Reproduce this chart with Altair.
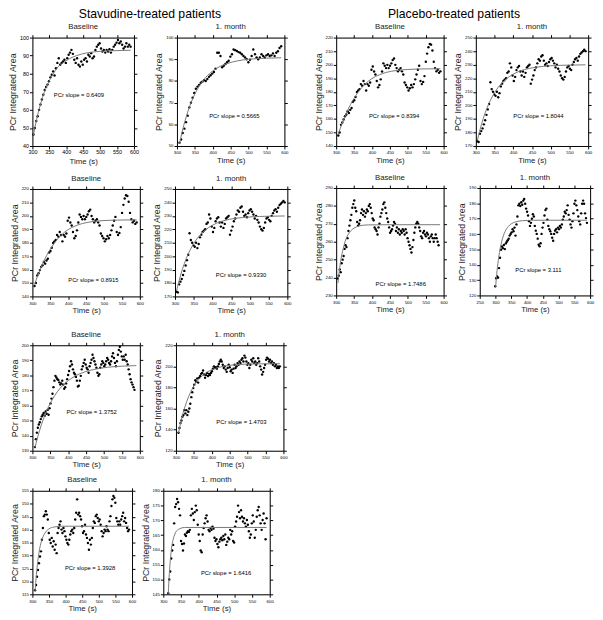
import altair as alt
import pandas as pd
import numpy as np

FONT = "Liberation Sans, Arial, sans-serif"

# ---------------- data ----------------
# Stavudine row 1, Baseline
P1_T = (303, 590)
P1 = [46.4, 50, 53.8, 56.5, 60, 63, 65.7, 68.4, 71, 72.7, 74, 75.8, 78, 79.4, 81.3, 79, 83, 86, 88.6, 85,
      86, 86.8, 87.7, 86, 88.6, 90.5, 91.7, 93.2, 91, 87.7, 86, 88.6, 85, 84, 86.8, 85, 87.7, 88.6, 86.8, 90.5,
      89.5, 91.4, 88.6, 89.5, 93.2, 95, 96, 96.9, 94, 92.3, 93.2, 91.7, 93.2, 92.3, 93.6, 91.7, 93.2, 95, 96, 97.2,
      98.7, 96.9, 97.8, 96, 94, 95, 96.9, 95, 96, 95]
C1_T = [303, 310, 320, 330, 340, 350, 360, 375, 390, 410, 430, 460, 500, 550, 590]
C1 = [46, 52.6, 60.5, 66.9, 72, 76.1, 79.4, 83.7, 85.9, 88.4, 90, 91.5, 92.4, 92.8, 93]

# Stavudine row 1, 1. month
P2_T = (307, 591)
P2 = [51.5, 53, 56, 58, 61, 64, 67.8, 70, 72.3, 74.5, 76.4, 77.4, 78.2, 79.2, 79.7, 80.4, 80, 80.9, 81.9, 82.6,
      83.4, 84.1, 85.6, 93, 93, 91.5, 86.3, 87, 87.8, 88.6, 89.3, 91.2, 92.3, 94.5, 94.2, 93.8, 93.3, 93, 92.3, 91.5,
      90.8, 90, 88.6, 89.8, 91.5, 94.5, 92.3, 90.8, 90, 90.8, 92.3, 91.5, 90.8, 91.8, 92.3, 91.5, 91.8, 92.7, 91.5, 93,
      93.7, 95.2, 96]
C2_T = [307, 315, 325, 335, 345, 355, 365, 380, 400, 420, 440, 470, 500, 550, 591]
C2 = [51, 56.9, 63, 68.1, 72.2, 75.6, 78.3, 81.6, 84.6, 86.7, 88, 89.3, 90, 90.5, 90.7]

# Placebo row 1 Baseline (same curve shown in Stavudine row 2 Baseline)
P3_T = (306, 591)
P3 = [147.8, 150, 155.6, 157.3, 159.6, 162, 163.2, 165.6, 164.4, 166.7, 168, 172.7, 173.8, 176.2, 179.8, 181, 182,
      185.7, 184.5, 188, 185.7, 181, 185.7, 184.5, 186.9, 196.3, 198.7, 195, 192.8, 188, 183.3, 185, 189.2, 195, 201,
      199.2, 197.5, 199.9, 197.5, 199.2, 201, 203.4, 204.6, 199.9, 197.5, 195.1, 196.3, 197.5, 195.1, 192.8, 186.9,
      185, 183.3, 181, 182.6, 185, 183.3, 185.7, 189.2, 192.8, 196.3, 199.2, 188, 185.7, 187.3, 191.6, 202.2, 208.2,
      212.9, 215.3, 214.8, 210.5, 202.2, 197.5, 195.1, 196.3, 194, 195.1]
C3_T = [306, 315, 325, 335, 345, 355, 365, 380, 400, 420, 440, 470, 500, 550, 591]
C3 = [149, 155.5, 162, 168, 173, 177.3, 181, 185.5, 189.8, 192.5, 194.3, 195.8, 196.5, 196.9, 197]

# Placebo row 1 1. month (same curve shown in Stavudine row 2 1. month)
P4_T = (304, 593)
P4 = [173.5, 173, 179, 181, 183, 186, 189, 193, 197, 201, 217, 212, 210, 208, 207, 210, 206, 209, 214, 216,
      218, 219, 220, 224, 225, 231, 228, 222, 218, 221, 226, 228, 229, 225, 222, 225, 221, 224, 228, 229,
      230, 216, 219, 222, 226, 228, 231, 234, 233, 236, 237, 233, 230, 231, 229, 232, 234, 235, 233, 231,
      228, 230, 227, 225, 222, 220, 219, 221, 225, 228, 229, 227, 226, 230, 232, 234, 235, 233, 236, 238,
      239, 240, 241, 240]
C4_T = [304, 310, 320, 330, 340, 350, 360, 375, 390, 410, 430, 460, 500, 550, 593]
C4 = [174, 180.8, 190.5, 198.2, 204.4, 209.4, 213.4, 218, 221.3, 224.4, 226.4, 228.1, 229.2, 229.7, 229.9]

# Placebo row 2 Baseline
P7_T = (304.5, 586)
P7 = [239.5, 241, 244.5, 243, 248, 250, 252, 256, 258, 257, 262, 266, 269, 272, 275, 279, 281, 283, 279, 277,
      271, 269, 270, 272, 276, 278, 275, 277, 274, 276, 278, 277, 280, 281, 279, 276, 273, 272, 268, 267,
      266, 264, 268, 270, 274, 276, 278, 281, 282, 279, 276, 273, 271, 268, 265, 266, 267, 269, 271, 270,
      266, 268, 265, 267, 264, 266, 265, 267, 266, 264, 267, 265, 262, 260, 258, 256, 254, 257, 261, 265,
      268, 270, 271, 270, 268, 266, 263, 262, 265, 266, 264, 263, 265, 264, 262, 260, 263, 264, 262, 260,
      262, 264, 262, 260, 258]
C7_T = [305, 310, 315, 320, 325, 330, 340, 350, 365, 390, 450, 590]
C7 = [237, 245.7, 252.1, 256.3, 260.2, 262.7, 265.9, 267.6, 268.9, 269.4, 269.5, 269.5]

# Placebo row 2 1. month
P8_T = (299, 590)
P8 = [126, 131.2, 132.3, 131.6, 137.8, 144.6, 149.8, 151.9, 150.8, 152.9, 150.2, 153.9, 155, 156, 157, 159, 160.1,
      161.1, 163.2, 161.8, 164.2, 159, 166.3, 171.4, 178.7, 179.7, 178.2, 180.7, 179.1, 181.8, 182.8, 179.7, 176.6,
      174.5, 172.1, 168.4, 165.3, 167.3, 170, 172.9, 171.4, 165.3, 162.2, 160.1, 157, 153, 152, 154, 160.1, 164.2,
      167.3, 172.1, 175.6, 176.6, 169.4, 165.3, 163.2, 161.8, 160.1, 157.6, 155.6, 160.1, 162.2, 163.2, 161.1, 164.2,
      163.2, 165.3, 164.2, 166.3, 169.4, 171.4, 174.5, 173.5, 175.6, 178.7, 172.5, 169.4, 166.3, 164.2, 168.4, 173.5,
      179.7, 181.8, 178.7, 175.6, 171.4, 168.4, 166.3, 173.5, 179.7, 181.8, 179.7, 173.5, 170.4, 167.3]
C8_T = [300, 305, 310, 315, 320, 330, 340, 350, 365, 385, 420, 590]
C8 = [125, 136.2, 144.6, 150.8, 155.4, 161.5, 164.8, 166.7, 168, 168.7, 169, 169]

# Stavudine row 3 Baseline
P9_T = (307, 585)
P9 = [132.4, 137.7, 142, 145.3, 147.4, 148.9, 151, 152.8, 153.9, 155, 153.2, 156, 154.5, 157.1, 153.9, 158.2, 161.4,
      164.6, 167.8, 172.2, 176.5, 179.7, 178.6, 177.5, 176.9, 175.4, 173.9, 174.7, 176.5, 173.9, 171.1, 172.2, 174.7,
      177.5, 180.3, 182.9, 186.1, 189.4, 187.2, 184, 181.8, 180.8, 179, 176.5, 172.6, 173.2, 176.5, 179.7, 184, 186.1,
      188.3, 190.4, 187.2, 185.1, 184, 181.8, 186.1, 188.3, 190.4, 193.7, 191.5, 189.4, 187.2, 185.1, 181.8, 179.7,
      180.8, 185.1, 187.2, 189.4, 188.3, 186.1, 187.2, 189.4, 191.5, 190.4, 188.3, 187.2, 189.4, 192.6, 194.7, 191.5,
      188.3, 186.1, 189.4, 193.7, 196.9, 199, 195.8, 192.6, 190.4, 192.6, 190.4, 193.7, 189.4, 187.2, 184, 180.8,
      177.5, 175.4, 173.9, 172.2, 170.4]
C9_T = [307, 315, 325, 335, 345, 355, 370, 385, 400, 420, 445, 475, 510, 550, 590]
C9 = [132, 139.3, 147.2, 153.7, 159.2, 163.7, 169.3, 173.4, 176.5, 179.7, 182.2, 184.1, 185.4, 186.1, 186.5]

# Stavudine row 3 1. month
P10_T = (307, 590)
P10 = [137, 141.5, 146.2, 148.6, 152.3, 153.8, 158.5, 155.4, 158.5, 153.8, 156.9, 160, 164.6, 170.8, 175.4, 179.4,
       182.5, 186.8, 185.5, 188.6, 184.6, 189.2, 190.8, 192.9, 193.8, 196, 192.3, 189.2, 191.7, 193.8, 190.8, 192.9,
       191.7, 193.8, 195.4, 197.8, 200, 198.5, 199.1, 197.8, 200, 202.2, 204.6, 206.2, 204.6, 201.5, 198.5, 200,
       196.9, 194.8, 198.5, 201.5, 199.1, 195.4, 196.9, 193.8, 197.8, 201.5, 198.5, 200, 203.1, 201.5, 204.6, 203.1,
       206.2, 207.7, 204.6, 210.2, 208.3, 204.6, 201.5, 203.1, 198.5, 201.5, 206.2, 204.6, 207.7, 203.1, 204.6,
       201.5, 203.1, 207.7, 204.6, 200, 196.9, 192.3, 194.8, 198.5, 201.5, 206.2, 208.3, 207.1, 204.6, 206.2, 203.1,
       204.6, 201.5, 203.1, 200, 201.5, 198.5, 200, 198.5, 200]
C10_T = [307, 315, 325, 335, 345, 355, 370, 385, 400, 420, 450, 490, 540, 590]
C10 = [137, 149.5, 161.7, 171.1, 178.4, 184, 190, 194.1, 196.8, 199.1, 201, 202, 202.4, 202.5]

# Stavudine row 4 Baseline
P11_T = (308, 591)
P11 = [116.6, 118.6, 121.8, 124.4, 127, 129.6, 131.6, 136.1, 140.6, 145.2, 145.8, 147.1, 145.8, 143.9, 138.7, 136.1,
       134.8, 136.8, 133.5, 135.5, 132.2, 134.2, 130.9, 138.7, 140.6, 141.9, 143.2, 140, 138.7, 140.6, 139.4, 137.4,
       136.1, 134.8, 134.2, 136.1, 138.1, 139.4, 140, 138.7, 140.6, 143.9, 146.5, 151.7, 145.8, 146.5, 145.2, 143.9,
       141.3, 138.7, 139.4, 141.9, 138.1, 136.8, 134.8, 132.2, 136.1, 134.2, 136.8, 140.6, 143.2, 142.6, 145.2, 145.8,
       144.5, 143.2, 143.9, 141.9, 139.4, 137.4, 138.7, 140, 139.4, 141.3, 140, 139.4, 143.2, 145.2, 149.1, 151.7,
       153, 152.3, 150.4, 144.5, 143.2, 141.9, 143.2, 141.9, 143.9, 145.2, 146.5, 143.2, 144.5, 142.6, 140.6, 139.4,
       140]
C11_T = [308, 312, 316, 320, 325, 330, 340, 350, 365, 390, 591]
C11 = [116, 122.7, 127.6, 131.3, 134.5, 136.6, 139.1, 140.3, 141, 141.3, 141.3]

# Stavudine row 4 1. month
P12_T = (314, 591)
P12 = [145.4, 150, 152.7, 157.1, 159.8, 161.7, 169, 174.5, 175.5, 177.2, 176.1, 173.9, 171.7, 163, 162, 159.8, 162.2,
       165.2, 164.7, 165.8, 166.3, 166.1, 166.8, 171.7, 173.9, 172.3, 170.1, 172.8, 175, 173.4, 168.5, 165.2, 163,
       159.8, 159.2, 165.2, 167.4, 169, 170.7, 171.7, 169.6, 166.8, 166.3, 167.4, 166.8, 167.9, 167.2, 164.1, 163,
       163.6, 162, 160.9, 162.8, 163.6, 164.1, 163.3, 164.7, 163.6, 165.2, 161.7, 162.8, 164.1, 163.6, 166.8, 165.2,
       166.3, 163, 162.5, 167.9, 169.6, 171.2, 175, 172.8, 170.7, 173.4, 171.2, 169.6, 170.7, 169, 167.9, 170.1, 168.5,
       166.3, 164.1, 165.2, 169, 171.7, 169.6, 164.1, 166.8, 171.2, 173.4, 174.5, 171.7, 169, 166.8, 170.1, 172.3, 169,
       163.6, 170.7]
C12_T = [314, 317, 320, 323, 326, 330, 335, 345, 360, 591]
C12 = [145, 152.1, 156.9, 160.3, 162.6, 164.5, 166, 167.1, 167.6, 167.6]

SLOPES = ["0.6409", "0.5665", "0.8394", "1.8044", "0.8915", "0.9330",
          "1.7486", "3.111", "1.3752", "1.4703", "1.3928", "1.6416"]
TITLES = ["Baseline", "1. month"]
GROUPS = ["Stavudine-treated patients", "Placebo-treated patients"]

X_TICKS = [300, 350, 400, 450, 500, 550, 600]
X_TICKS_250 = [250, 300, 350, 400, 450, 500, 550, 600]
Y1 = [40, 50, 60, 70, 80, 90, 100]
Y2 = [50, 60, 70, 80, 90, 100]
Y3 = [140, 150, 160, 170, 180, 190, 200, 210, 220]
Y4 = [170, 180, 190, 200, 210, 220, 230, 240, 250]
Y7 = [230, 240, 250, 260, 270, 280, 290]
Y8 = [120, 130, 140, 150, 160, 170, 180, 190]
Y9 = [130, 140, 150, 160, 170, 180, 190, 200]
Y10 = [120, 140, 160, 180, 200, 220]
Y11 = [115, 120, 125, 130, 135, 140, 145, 150, 155]
Y12 = [145, 150, 155, 160, 165, 170, 175, 180]


def panel(trange, vals, ct, cv, xticks, yticks, title, slope, tpos, w, h, lab=4.5):
    t = np.linspace(trange[0], trange[1], len(vals))
    pts = pd.DataFrame({"t": t, "v": vals})
    cur = pd.DataFrame({"t": ct, "v": cv})
    txt = pd.DataFrame({"t": [tpos[0]], "v": [tpos[1]], "s": ["PCr slope = " + slope]})
    xs = alt.Scale(domain=[xticks[0], xticks[-1]], nice=False, zero=False)
    ys = alt.Scale(domain=[yticks[0], yticks[-1]], nice=False, zero=False)
    base_ax = dict(tickSize=3, tickColor="black", domainColor="black", grid=False,
                   labelFlush=False, labelOverlap=False)
    lab_ax = dict(labelFontSize=lab, labelFont=FONT, labelColor="black", labelPadding=1,
                  titleFont=FONT, titleFontWeight="normal", titleColor="#222222")
    p = alt.Chart(pts).mark_circle(size=6, color="black", opacity=1).encode(
        x=alt.X("t:Q", scale=xs, axis=alt.Axis(values=xticks, title="Time (s)", titleFontSize=8,
                                               titlePadding=2, **base_ax, **lab_ax)),
        y=alt.Y("v:Q", scale=ys, axis=alt.Axis(values=yticks, title="PCr Integrated Area", titleFontSize=9,
                                               titlePadding=2, **base_ax, **lab_ax)),
    )
    l = alt.Chart(cur).mark_line(color="#777777", strokeWidth=1, interpolate="monotone").encode(
        x=alt.X("t:Q", scale=xs, axis=alt.Axis(values=xticks, orient="top", labels=False, title="",
                                               titlePadding=0, **base_ax)),
        y=alt.Y("v:Q", scale=ys, axis=alt.Axis(values=yticks, orient="right", labels=False, title="",
                                               titlePadding=0, **base_ax)),
    )
    tx = alt.Chart(txt).mark_text(align="left", baseline="middle", fontSize=6, font=FONT, color="black").encode(
        x=alt.X("t:Q", scale=xs, axis=None),
        y=alt.Y("v:Q", scale=ys, axis=None),
        text="s:N",
    )
    return alt.layer(p, l, tx).resolve_axis(x="independent", y="independent").properties(
        width=w, height=h,
        title=alt.TitleParams(title, fontSize=8, font=FONT, fontWeight="normal", offset=3, anchor="middle",
                              color="#222222"),
    )


p1 = panel(P1_T, P1, C1_T, C1, X_TICKS, Y1, TITLES[0], SLOPES[0], (363, 68.4), 104, 111, lab=5.5)
p2 = panel(P2_T, P2, C2_T, C2, X_TICKS, Y2, TITLES[1], SLOPES[1], (390, 64), 110, 111)
p3 = panel(P3_T, P3, C3_T, C3, X_TICKS, Y3, TITLES[0], SLOPES[2], (391.5, 162), 110, 111)
p4 = panel(P4_T, P4, C4_T, C4, X_TICKS, Y4, TITLES[1], SLOPES[3], (400, 192.4), 115, 111)
p5 = panel(P3_T, P3, C3_T, C3, X_TICKS, Y3, TITLES[0], SLOPES[4], (400, 152.4), 110, 110)
p6 = panel(P4_T, P4, C4_T, C4, X_TICKS, Y4, TITLES[1], SLOPES[5], (409, 186), 115, 110)
p7 = panel(P7_T, P7, C7_T, C7, X_TICKS, Y7, TITLES[0], SLOPES[6], (410, 236.4), 110, 110)
p8 = panel(P8_T, P8, C8_T, C8, X_TICKS_250, Y8, TITLES[1], SLOPES[7], (362.6, 136.4), 113, 110)
p9 = panel(P9_T, P9, C9_T, C9, X_TICKS, Y9, TITLES[0], SLOPES[8], (395, 155.4), 110, 108)
p10 = panel(P10_T, P10, C10_T, C10, X_TICKS, Y10, TITLES[1], SLOPES[9], (412.5, 147.4), 110, 108)
p11 = panel(P11_T, P11, C11_T, C11, X_TICKS, Y11, TITLES[0], SLOPES[10], (398, 125), 102, 106)
p12 = panel(P12_T, P12, C12_T, C12, X_TICKS, Y12, TITLES[1], SLOPES[11], (406, 152.2), 109, 106)

grp_title = dict(fontSize=12.5, font=FONT, fontWeight="normal", anchor="middle", color="black", offset=3)

left = alt.vconcat(
    alt.vconcat(alt.hconcat(p1, p2, spacing=14), alt.hconcat(p5, p6, spacing=7), spacing=9),
    alt.vconcat(alt.hconcat(p9, p10, spacing=8), alt.hconcat(p11, p12, spacing=3), spacing=7),
    spacing=16,
).properties(title=alt.TitleParams(GROUPS[0], **grp_title))

right = alt.vconcat(
    alt.hconcat(p3, p4, spacing=4),
    alt.hconcat(p7, p8, spacing=8),
    spacing=9,
).properties(title=alt.TitleParams(GROUPS[1], **grp_title))

chart = alt.hconcat(left, right, spacing=21).properties(
    padding={"left": 0, "top": -8, "right": 0, "bottom": 0}
).configure_view(stroke="black", strokeWidth=1).configure(background="white")

chart.save("out.html", embed_options={"renderer": "svg", "actions": False})
